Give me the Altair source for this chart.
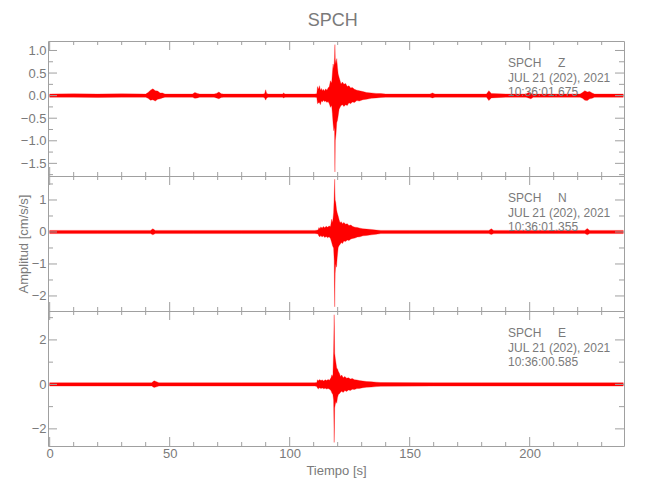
import altair as alt
import pandas as pd

# ---------------- shared x axis ----------------
X_DOMAIN = [-0.7, 239.3]
X_MAJOR = [0, 50, 100, 150, 200]
X_MINOR = [10, 20, 30, 40, 60, 70, 80, 90, 110, 120, 130, 140,
           160, 170, 180, 190, 210, 220, 230]

# ---------------- Z component (envelope) ----------------
Z_T  = [0, 10, 20, 30, 40, 41, 42, 43, 44, 45, 46, 47, 48, 55,
        59.5, 60.5, 61.5, 62.5, 68.5, 69.5, 70.5, 71.5, 72.5, 80,
        89, 89.6, 90, 90.4, 91, 97, 97.5, 98, 105, 110.5, 111.3,
        111.6, 112.0, 112.4, 112.8, 113.2, 113.6, 114.0, 114.5, 115.0, 115.5,
        116.0, 116.5, 117.0, 117.5, 117.8, 118.1, 118.4, 118.7, 118.85, 119.0,
        119.3, 119.6, 119.9, 120.2, 120.6, 121.0, 121.4, 122.0, 122.6, 123.3,
        124.0, 124.7, 125.4, 126.1, 127.0, 128.0, 129.0, 130.5, 132.0, 134.0,
        136.0, 138.0, 140.0, 150, 158.5, 159.5, 160.5, 170, 182, 183,
        184, 190, 198.5, 199.5, 200.5, 201.5, 210, 221, 222, 223,
        224, 225, 226, 227, 235, 239]
Z_UP = [0.035, 0.04, 0.035, 0.04, 0.035, 0.07, 0.12, 0.15, 0.11, 0.10, 0.06, 0.06, 0.035, 0.035,
        0.035, 0.07, 0.05, 0.035, 0.035, 0.05, 0.08, 0.04, 0.035, 0.035,
        0.035, 0.05, 0.13, 0.05, 0.035, 0.035, 0.06, 0.035, 0.035, 0.035, 0.04,
        0.20, 0.14, 0.22, 0.12, 0.16, 0.11, 0.14, 0.10, 0.15, 0.12,
        0.17, 0.20, 0.33, 0.28, 0.50, 0.70, 0.60, 0.85, 1.13, 0.80,
        0.70, 0.82, 0.63, 0.48, 0.40, 0.33, 0.26, 0.30, 0.25, 0.27,
        0.20, 0.22, 0.17, 0.18, 0.14, 0.12, 0.11, 0.09, 0.07, 0.06,
        0.05, 0.045, 0.035, 0.035, 0.035, 0.06, 0.035, 0.035, 0.035, 0.11,
        0.05, 0.035, 0.035, 0.07, 0.05, 0.035, 0.035, 0.035, 0.07, 0.11,
        0.08, 0.09, 0.06, 0.035, 0.035, 0.035]
Z_LO = [-0.035, -0.035, -0.04, -0.035, -0.035, -0.06, -0.10, -0.09, -0.12, -0.08, -0.07, -0.05, -0.035, -0.035,
        -0.035, -0.06, -0.05, -0.035, -0.035, -0.05, -0.07, -0.04, -0.035, -0.035,
        -0.035, -0.05, -0.10, -0.05, -0.035, -0.035, -0.05, -0.035, -0.035, -0.035, -0.04,
        -0.18, -0.16, -0.15, -0.20, -0.12, -0.14, -0.10, -0.13, -0.12, -0.15,
        -0.13, -0.18, -0.26, -0.22, -0.40, -0.63, -0.78, -0.70, -1.69, -1.00,
        -0.85, -0.60, -0.55, -0.45, -0.30, -0.26, -0.22, -0.20, -0.24, -0.20,
        -0.22, -0.16, -0.18, -0.14, -0.15, -0.11, -0.12, -0.09, -0.08, -0.06,
        -0.05, -0.04, -0.035, -0.035, -0.035, -0.05, -0.035, -0.035, -0.035, -0.11,
        -0.05, -0.035, -0.035, -0.05, -0.07, -0.035, -0.035, -0.035, -0.06, -0.10,
        -0.11, -0.07, -0.06, -0.035, -0.035, -0.035]

# ---------------- N component ----------------
N_T  = [0, 20, 42, 43, 44, 60, 80, 100, 110.5, 111.8,
        112.2, 112.6, 113.0, 113.5, 114.0, 114.6, 115.2, 115.8, 116.4, 117.0,
        117.5, 117.9, 118.3, 118.55, 118.75, 118.95, 119.2, 119.5, 119.8, 120.2,
        120.6, 121.0, 121.5, 122.0, 122.6, 123.3, 124.0, 124.7, 125.5, 126.3,
        127.2, 128.2, 129.3, 130.5, 132.0, 134.0, 136.0, 138.0, 150, 170,
        183, 184, 185, 200, 223, 224, 225, 239]
N_UP = [0.05, 0.05, 0.05, 0.10, 0.05, 0.05, 0.05, 0.05, 0.05, 0.06,
        0.14, 0.10, 0.16, 0.12, 0.17, 0.13, 0.18, 0.15, 0.19, 0.17,
        0.40, 0.30, 0.60, 1.10, 1.65, 1.00, 0.92, 0.71, 0.60, 0.50,
        0.38, 0.29, 0.32, 0.26, 0.30, 0.24, 0.26, 0.20, 0.22, 0.17,
        0.15, 0.14, 0.12, 0.10, 0.09, 0.08, 0.06, 0.05, 0.05, 0.05,
        0.05, 0.10, 0.05, 0.05, 0.05, 0.11, 0.05, 0.05]
N_LO = [-0.05, -0.05, -0.05, -0.09, -0.05, -0.05, -0.05, -0.05, -0.05, -0.06,
        -0.13, -0.15, -0.11, -0.16, -0.12, -0.17, -0.14, -0.18, -0.15, -0.20,
        -0.33, -0.44, -0.50, -0.90, -2.34, -1.30, -1.00, -1.10, -0.80, -0.49,
        -0.42, -0.39, -0.33, -0.36, -0.28, -0.30, -0.25, -0.27, -0.22, -0.20,
        -0.19, -0.16, -0.15, -0.12, -0.11, -0.09, -0.07, -0.05, -0.05, -0.05,
        -0.05, -0.08, -0.05, -0.05, -0.05, -0.09, -0.05, -0.05]

# ---------------- E component ----------------
E_T  = [0, 20, 42.5, 43.5, 44.5, 45.5, 60, 80, 100, 110.5, 111.3,
        111.6, 112.0, 112.5, 113.0, 113.6, 114.2, 114.8, 115.4, 116.0, 116.6,
        117.2, 117.6, 118.0, 118.3, 118.55, 118.75, 119.0, 119.3, 119.6, 119.9,
        120.3, 120.7, 121.2, 121.7, 122.3, 123.0, 123.7, 124.5, 125.3, 126.1,
        127.0, 128.0, 129.0, 130.5, 132.0, 134.0, 136.0, 138.0, 160, 180,
        200, 220, 239]
E_UP = [0.075, 0.075, 0.075, 0.16, 0.12, 0.075, 0.075, 0.075, 0.075, 0.075, 0.09,
        0.21, 0.16, 0.22, 0.17, 0.20, 0.15, 0.21, 0.17, 0.22, 0.19,
        0.30, 0.43, 0.35, 1.48, 3.13, 1.40, 1.18, 0.95, 0.73, 0.70,
        0.58, 0.50, 0.36, 0.42, 0.30, 0.36, 0.28, 0.30, 0.24, 0.26,
        0.21, 0.20, 0.17, 0.15, 0.13, 0.12, 0.10, 0.085, 0.075, 0.075,
        0.075, 0.075, 0.075]
E_LO = [-0.075, -0.075, -0.075, -0.14, -0.11, -0.075, -0.075, -0.075, -0.075, -0.075, -0.09,
        -0.17, -0.20, -0.15, -0.19, -0.16, -0.20, -0.17, -0.21, -0.18, -0.22,
        -0.28, -0.39, -0.45, -0.70, -2.61, -1.06, -0.90, -0.76, -0.85, -0.60,
        -0.46, -0.42, -0.35, -0.31, -0.36, -0.28, -0.32, -0.25, -0.27, -0.22,
        -0.23, -0.19, -0.18, -0.15, -0.13, -0.12, -0.10, -0.085, -0.075, -0.075,
        -0.075, -0.075, -0.075]

# ---------------- panel axes ----------------
Z_DOMAIN, Z_MAJOR, Z_MINOR = [-1.78, 1.21], [-1.5, -1.0, -0.5, 0.0, 0.5, 1.0], [-1.75, -1.25, -0.75, -0.25, 0.25, 0.75]
N_DOMAIN, N_MAJOR, N_MINOR = [-2.47, 1.75], [-2, -1, 0, 1], [-1.5, -0.5, 0.5, 1.5]
E_DOMAIN, E_MAJOR, E_MINOR = [-2.77, 3.30], [-2, 0, 2], [-1, 1, 3]

NB = "\u00a0"
Z_TEXT = f"SPCH{NB*5}Z\nJUL 21 (202), 2021\n10:36:01.675"
N_TEXT = f"SPCH{NB*5}N\nJUL 21 (202), 2021\n10:36:01.355"
E_TEXT = f"SPCH{NB*5}E\nJUL 21 (202), 2021\n10:36:00.585"

W, H = 576, 135
GRAY_TXT = "#7a7a7a"
GRAY_LINE = "#a0a0a0"
FONT = "Liberation Sans"


def tick_layer(vals, chan, scale, axis, a, b):
    df = pd.DataFrame({"v": vals})
    base = alt.Chart(df).mark_rule(color=GRAY_LINE, strokeWidth=1)
    if chan == "y":
        return base.encode(y=alt.Y("v:Q", scale=scale, axis=axis),
                           x=alt.value(a), x2=alt.value(b))
    return base.encode(x=alt.X("v:Q", scale=scale, axis=axis),
                       y=alt.value(a), y2=alt.value(b))


def panel(t, up, lo, ydom, ymaj, ymin, fmt, label, bottom=False, ytitle=None):
    assert len(t) == len(up) == len(lo)
    df = pd.DataFrame({"t": t, "up": up, "lo": lo})
    xs = alt.Scale(domain=X_DOMAIN, nice=False, zero=False)
    ys = alt.Scale(domain=ydom, nice=False, zero=False)
    if bottom:
        xaxis = alt.Axis(values=X_MAJOR, ticks=False, domain=False, grid=False,
                         labelFlush=False, labelPadding=1, title="Tiempo [s]",
                         titlePadding=4)
    else:
        xaxis = None
    yargs = dict(values=ymaj, format=fmt, ticks=False, domain=False, grid=False,
                 labelPadding=2)
    if ytitle:
        yargs.update(title=ytitle, titlePadding=1)
    else:
        yargs.update(title=None)
    yaxis = alt.Axis(**yargs)
    area = alt.Chart(df).mark_area(color="#ff0000", stroke="#ff0000",
                                   strokeWidth=0.3, interpolate="linear").encode(
        x=alt.X("t:Q", scale=xs, axis=xaxis),
        y=alt.Y("lo:Q", scale=ys, axis=yaxis),
        y2=alt.Y2("up:Q"),
    )
    txt = alt.Chart(pd.DataFrame({"label": [label]})).mark_text(
        align="left", baseline="alphabetic", lineBreak="\n", lineHeight=14.5,
        font=FONT, fontSize=12, color=GRAY_TXT,
    ).encode(text="label:N", x=alt.value(460), y=alt.value(26))
    layers = [
        area,
        tick_layer(ymaj, "y", ys, yaxis, 0, 9),
        tick_layer(ymin, "y", ys, yaxis, 0, 5),
        tick_layer(ymaj, "y", ys, yaxis, W, W - 9),
        tick_layer(ymin, "y", ys, yaxis, W, W - 5),
        tick_layer(X_MAJOR, "x", xs, xaxis, H, H - 9),
        tick_layer(X_MINOR, "x", xs, xaxis, H, H - 4),
        tick_layer(X_MAJOR, "x", xs, xaxis, 0, 9),
        tick_layer(X_MINOR, "x", xs, xaxis, 0, 4),
        txt,
    ]
    return alt.layer(*layers).properties(width=W, height=H)


p1 = panel(Z_T, Z_UP, Z_LO, Z_DOMAIN, Z_MAJOR, Z_MINOR, ".1f", Z_TEXT)
p2 = panel(N_T, N_UP, N_LO, N_DOMAIN, N_MAJOR, N_MINOR, "d", N_TEXT,
           ytitle="Amplitud [cm/s/s]")
p3 = panel(E_T, E_UP, E_LO, E_DOMAIN, E_MAJOR, E_MINOR, "d", E_TEXT, bottom=True)

chart = alt.vconcat(p1, p2, p3, spacing=0, bounds="flush").properties(
    title=alt.Title("SPCH", fontSize=18, font=FONT, fontWeight="normal",
                    color=GRAY_TXT, anchor="middle", offset=10, dx=12),
    padding={"left": 8, "top": 4, "right": 5, "bottom": 5},
).configure_view(
    stroke=GRAY_LINE, strokeWidth=1
).configure_axis(
    labelFont=FONT, labelFontSize=13, labelColor=GRAY_TXT,
    titleFont=FONT, titleFontSize=13, titleColor=GRAY_TXT, titleFontWeight="normal",
)

chart.save("out.html", embed_options={"renderer": "svg", "actions": False})
